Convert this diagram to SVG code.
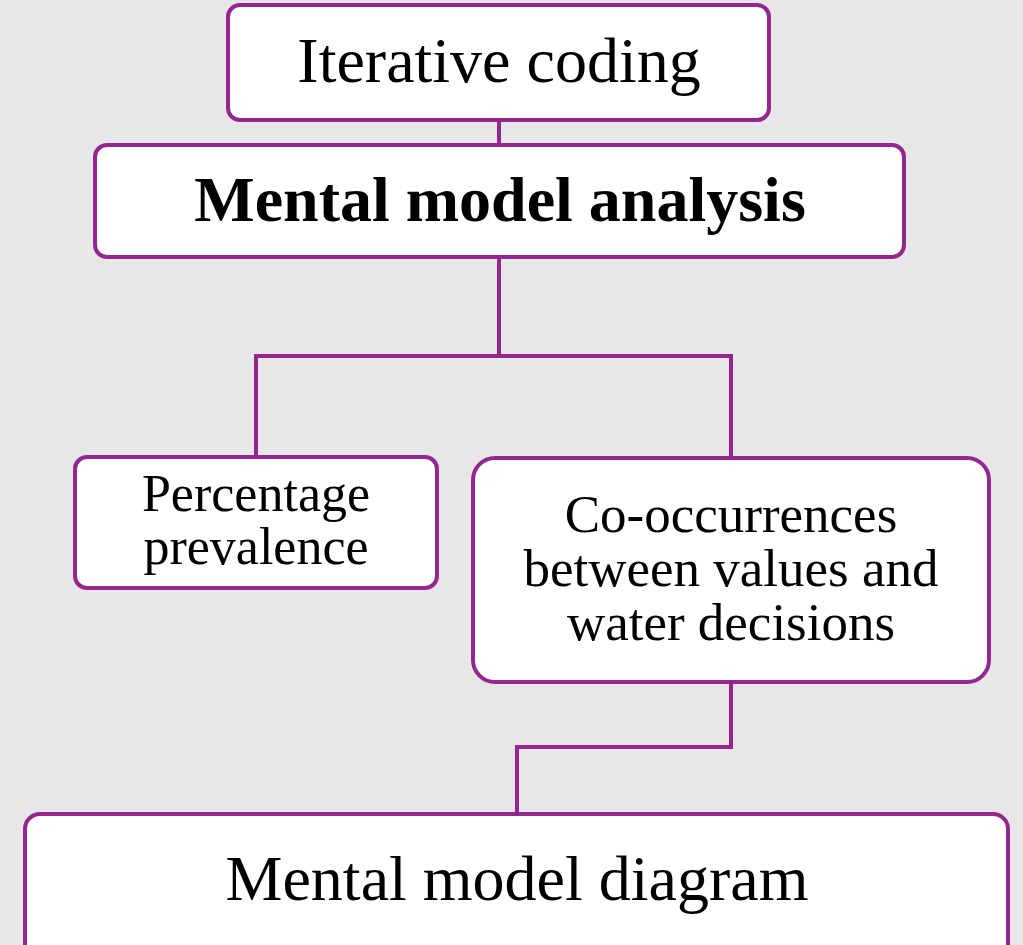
<svg xmlns="http://www.w3.org/2000/svg" width="1023" height="945" viewBox="0 0 1023 945">
<style>
.box{fill:#ffffff;stroke:#93278f;stroke-width:4}
.con{fill:none;stroke:#93278f;stroke-width:4}
.t{font-family:"Liberation Serif","Times New Roman",serif;fill:#000;text-anchor:middle}
</style>
<rect x="0" y="0" width="1023" height="945" fill="#e7e7e7"/>
<g id="connectors">
<polyline class="con" points="499,120 499,145"/>
<polyline class="con" points="499,257 499,356 256,356 256,457"/>
<polyline class="con" points="499,356 731,356 731,458"/>
<polyline class="con" points="731,682 731,747 517,747 517,814"/>
</g>
<g id="iterative-coding">
<rect class="box" x="228" y="5" width="541" height="115" rx="12"/>
<text class="t" x="499" y="82" font-size="64">Iterative coding</text>
</g>
<g id="mental-model-analysis">
<rect class="box" x="95" y="145" width="809" height="112" rx="12"/>
<text class="t" x="500" y="221" font-size="64" font-weight="bold">Mental model analysis</text>
</g>
<g id="percentage-prevalence">
<rect class="box" x="75" y="457" width="362" height="131" rx="12"/>
<text class="t" x="256" y="511" font-size="52">Percentage</text>
<text class="t" x="256" y="564" font-size="52">prevalence</text>
</g>
<g id="co-occurrences">
<rect class="box" x="473" y="458" width="516" height="224" rx="22"/>
<text class="t" x="731" y="532" font-size="53">Co-occurrences</text>
<text class="t" x="731" y="586" font-size="53">between values and</text>
<text class="t" x="731" y="640" font-size="53">water decisions</text>
</g>
<g id="mental-model-diagram">
<rect class="box" x="25" y="814" width="983" height="160" rx="15"/>
<text class="t" x="517" y="900" font-size="64">Mental model diagram</text>
</g>
</svg>
